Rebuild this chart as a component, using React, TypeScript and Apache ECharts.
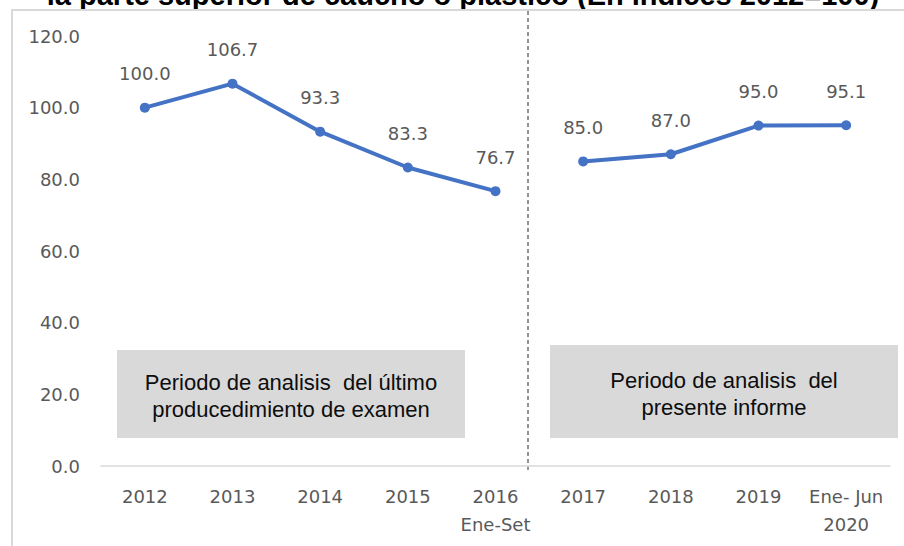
import React, { useEffect, useRef } from "react";
import * as echarts from "echarts";

const categories = ["2012", "2013", "2014", "2015", "2016\nEne-Set", "2017", "2018", "2019", "Ene- Jun\n2020"];
const previousPeriod = [100.0, 106.7, 93.3, 83.3, 76.7, "-", "-", "-", "-"];
const currentPeriod = ["-", "-", "-", "-", "-", 85.0, 87.0, 95.0, 95.1];
const yTicks = { min: 0, max: 120, interval: 20 };
const titleText = "la parte superior de caucho o plástico (En índices 2012=100)";
const boxLeftText = "Periodo de analisis  del último\nproducedimiento de examen";
const boxRightText = "Periodo de analisis  del\npresente informe";

const BLUE = "#4472C4";
const GRAY_TXT = "#595959";
const FONT = "'DejaVu Sans', sans-serif";
const SANS = "'Liberation Sans', Arial, sans-serif";

export default function App() {
  const ref = useRef<HTMLDivElement>(null);
  useEffect(() => {
    if (!ref.current) return;
    const chart = echarts.init(ref.current, null, { renderer: "svg" });
    const lineSeries = (data: any[]) => ({
      type: "line",
      data,
      symbol: "circle",
      symbolSize: 10,
      connectNulls: false,
      lineStyle: { color: BLUE, width: 4 },
      itemStyle: { color: BLUE },
      label: {
        show: true,
        position: "top",
        distance: 20,
        fontFamily: FONT,
        fontSize: 18,
        color: GRAY_TXT,
        formatter: (p: any) => Number(p.value).toFixed(1),
      },
    });
    chart.setOption({
      animation: false,
      backgroundColor: "#ffffff",
      grid: { left: 101, right: 14, top: 36, bottom: 80, containLabel: false },
      xAxis: {
        type: "category",
        data: categories,
        boundaryGap: true,
        axisLine: { show: true, lineStyle: { color: "#d9d9d9", width: 1.5 } },
        axisTick: { show: false },
        axisLabel: {
          fontFamily: FONT,
          fontSize: 18,
          color: GRAY_TXT,
          margin: 16,
          lineHeight: 28,
          interval: 0,
        },
        splitLine: { show: false },
      },
      yAxis: {
        type: "value",
        min: yTicks.min,
        max: yTicks.max,
        interval: yTicks.interval,
        axisLine: { show: false },
        axisTick: { show: false },
        splitLine: { show: false },
        axisLabel: {
          fontFamily: FONT,
          fontSize: 18,
          color: GRAY_TXT,
          margin: 21,
          formatter: (v: number) => v.toFixed(1),
        },
      },
      series: [lineSeries(previousPeriod), lineSeries(currentPeriod)],
      graphic: [
        {
          type: "text",
          x: 463,
          y: -5,
          style: {
            text: titleText,
            fontFamily: SANS,
            fontWeight: "bold",
            fontSize: 29,
            fill: "#000000",
            align: "center",
            verticalAlign: "middle",
          },
        },
        {
          type: "rect",
          silent: true,
          shape: { x: 12, y: 10, width: 1000, height: 1000 },
          style: { fill: "none", stroke: "#d9d9d9", lineWidth: 2 },
        },
        {
          type: "line",
          silent: true,
          shape: { x1: 528, y1: 11, x2: 528, y2: 471 },
          style: { stroke: "#262626", lineWidth: 1, lineDash: [4, 3] },
        },
        {
          type: "rect",
          silent: true,
          shape: { x: 117, y: 350, width: 348, height: 88 },
          style: { fill: "#d9d9d9" },
        },
        {
          type: "text",
          x: 291,
          y: 396,
          style: {
            text: boxLeftText,
            fontFamily: SANS,
            fontSize: 22,
            lineHeight: 27,
            fill: "#0d0d0d",
            align: "center",
            verticalAlign: "middle",
          },
        },
        {
          type: "rect",
          silent: true,
          shape: { x: 550, y: 345, width: 348, height: 93 },
          style: { fill: "#d9d9d9" },
        },
        {
          type: "text",
          x: 724,
          y: 394,
          style: {
            text: boxRightText,
            fontFamily: SANS,
            fontSize: 22,
            lineHeight: 27,
            fill: "#0d0d0d",
            align: "center",
            verticalAlign: "middle",
          },
        },
      ],
    });
    return () => chart.dispose();
  }, []);
  return (
    <div
      style={{ position: "fixed", left: 0, top: 0, width: 904, height: 546, overflow: "hidden", background: "#fff" }}
    >
      <div ref={ref} style={{ width: 904, height: 546 }} />
    </div>
  );
}
